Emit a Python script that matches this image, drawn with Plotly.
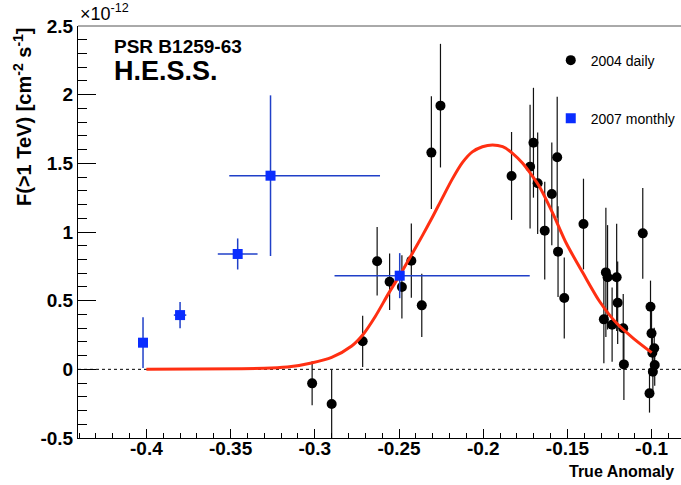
import plotly.graph_objects as go

# 2004 daily (black circles)
daily_x = [-0.3016, -0.290, -0.2716, -0.263, -0.2556, -0.2483, -0.2427, -0.2365,
           -0.2308, -0.2254, -0.1832, -0.1722, -0.1702, -0.1677, -0.1635, -0.1593,
           -0.1561, -0.1556, -0.1519, -0.1405, -0.1053,
           -0.1272, -0.1262, -0.1208, -0.1202, -0.1284, -0.1235, -0.1169, -0.1165,
           -0.1007, -0.1001, -0.0985, -0.0996, -0.0982, -0.0993, -0.1013]
daily_y = [-0.102, -0.253, 0.204, 0.787, 0.638, 0.600, 0.791, 0.466,
           1.578, 1.920, 1.408, 1.476, 1.650, 1.355, 1.010, 1.277,
           1.544, 0.857, 0.519, 1.058, 0.990,
           0.706, 0.670, 0.670, 0.485, 0.364, 0.325, 0.299, 0.036,
           0.456, 0.262, 0.153, 0.121, 0.031, -0.017, -0.175]
daily_err = [0.16, 0.25, 0.187, 0.25, 0.206, 0.23, 0.27, 0.23,
             0.41, 0.45, 0.32, 0.45, 0.40, 0.37, 0.355, 0.374,
             0.44, 0.33, 0.295, 0.33, 0.33,
             0.47, 0.38, 0.39, 0.30, 0.32, 0.27, 0.25, 0.26,
             0.19, 0.17, 0.15, 0.15, 0.15, 0.15, 0.14]

# 2007 monthly (blue squares)
monthly_x = [-0.402, -0.380, -0.3458, -0.3263, -0.2496]
monthly_y = [0.194, 0.395, 0.840, 1.410, 0.682]
monthly_yerr = [0.185, 0.095, 0.113, 0.585, 0.164]
monthly_xerr_plus = [0.0, 0.0037, 0.0118, 0.065, 0.0772]
monthly_xerr_minus = [0.0, 0.0037, 0.0118, 0.0245, 0.0387]

# fitted light curve
fit_x = [-0.400, -0.3438, -0.3259, -0.314, -0.302, -0.290, -0.2781, -0.2716,
         -0.2642, -0.2562, -0.2483, -0.2423, -0.2363, -0.2303, -0.2244, -0.2184,
         -0.2124, -0.2065, -0.2005, -0.1945, -0.1885, -0.1826, -0.1766, -0.1706,
         -0.1666, -0.1587, -0.1507, -0.1407, -0.1308, -0.1208, -0.1109, -0.1000]
fit_y = [0.000, 0.004, 0.009, 0.020, 0.046, 0.087, 0.170, 0.250,
         0.383, 0.553, 0.711, 0.840, 0.970, 1.105, 1.245, 1.385,
         1.505, 1.583, 1.621, 1.634, 1.621, 1.573, 1.500, 1.403,
         1.330, 1.136, 0.918, 0.699, 0.492, 0.335, 0.226, 0.122]

x_tickvals = [-0.4, -0.35, -0.3, -0.25, -0.2, -0.15, -0.1]
x_ticktext = ["-0.4", "-0.35", "-0.3", "-0.25", "-0.2", "-0.15", "-0.1"]
y_tickvals = [-0.5, 0, 0.5, 1, 1.5, 2, 2.5]
y_ticktext = ["-0.5", "0", "0.5", "1", "1.5", "2", "2.5"]

FONT = "Liberation Sans"

fig = go.Figure()

fig.add_trace(go.Scatter(
    x=daily_x, y=daily_y, mode="markers", name="2004 daily",
    legendgroup="a",
    marker=dict(symbol="circle", size=10, color="black"),
    error_y=dict(type="data", array=daily_err, visible=True, color="#111111",
                 thickness=1.2, width=0),
))

fig.add_trace(go.Scatter(
    x=fit_x, y=fit_y, mode="lines", showlegend=False,
    line=dict(color="#ff2f12", width=3, shape="spline", smoothing=0.8),
))

fig.add_trace(go.Scatter(
    x=monthly_x, y=monthly_y, mode="markers", name="2007 monthly",
    legendgroup="b",
    marker=dict(symbol="square", size=10, color="#0a2dff"),
    error_y=dict(type="data", array=monthly_yerr, visible=True, color="#2040c8",
                 thickness=1.5, width=0),
    error_x=dict(type="data", array=monthly_xerr_plus, arrayminus=monthly_xerr_minus,
                 visible=True, color="#2040c8", thickness=1.5, width=0),
))

# dotted zero line
fig.add_shape(type="line", xref="paper", yref="y", x0=0, x1=1, y0=0, y1=0,
              line=dict(color="black", width=1, dash="dot"), layer="below")
# top frame line
fig.add_shape(type="line", xref="paper", yref="paper", x0=0, x1=1, y0=1, y1=1,
              line=dict(color="#555555", width=1))

fig.update_xaxes(
    range=[-0.4406, -0.0826], showgrid=False, zeroline=False,
    showline=True, linecolor="black", linewidth=1,
    ticks="inside", ticklen=9, tickcolor="black", tickwidth=1,
    tickvals=x_tickvals, ticktext=x_ticktext, ticklabelstandoff=-7,
    tickfont=dict(family=FONT, size=19, color="black", weight="bold"),
    minor=dict(ticks="inside", ticklen=5, tickcolor="black", tick0=0, dtick=0.01),
)
fig.update_yaxes(
    range=[-0.5, 2.5], showgrid=False, zeroline=False,
    showline=True, linecolor="black", linewidth=1,
    ticks="inside", ticklen=18, tickcolor="black", tickwidth=1,
    tickvals=y_tickvals, ticktext=y_ticktext,
    tickfont=dict(family=FONT, size=19, color="black", weight="bold"),
    minor=dict(ticks="inside", ticklen=9, tickcolor="black", tick0=0, dtick=0.1),
)

fig.update_layout(
    width=681, height=485,
    margin=dict(l=78, r=0, t=26, b=47),
    paper_bgcolor="white", plot_bgcolor="white",
    font=dict(family=FONT, color="black"),
    showlegend=True,
    legend=dict(x=0.784, y=0.955, xanchor="left", yanchor="top",
                bgcolor="rgba(0,0,0,0)", tracegroupgap=37,
                font=dict(family=FONT, size=14, color="black")),
    annotations=[
        dict(text="PSR B1259-63", xref="paper", yref="paper", x=0.0564, y=0.9498,
             xanchor="left", yanchor="middle", showarrow=False,
             font=dict(family=FONT, size=19, weight="bold")),
        dict(text="H.E.S.S.", xref="paper", yref="paper", x=0.0564, y=0.8908,
             xanchor="left", yanchor="middle", showarrow=False,
             font=dict(family=FONT, size=27, weight="bold")),
        dict(text="×10<sup>-12</sup>", xref="paper", yref="paper", x=0.0, y=1.0,
             xanchor="left", yanchor="bottom", showarrow=False,
             font=dict(family=FONT, size=18)),
        dict(text="F(>1 TeV) [cm<sup>-2</sup> s<sup>-1</sup>]", xref="paper", yref="paper",
             x=-0.0929, y=1.0, xanchor="center", yanchor="top", textangle=-90,
             showarrow=False, font=dict(family=FONT, size=20, weight="bold")),
        dict(text="True Anomaly", xref="paper", yref="paper", x=0.9917, y=-0.0818,
             xanchor="right", yanchor="middle", showarrow=False,
             font=dict(family=FONT, size=16, weight="bold")),
    ],
)

fig.write_html(
    "out.html",
    config={"displayModeBar": False},
    post_script="document.body.style.margin='0';document.body.style.overflow='hidden';",
)
